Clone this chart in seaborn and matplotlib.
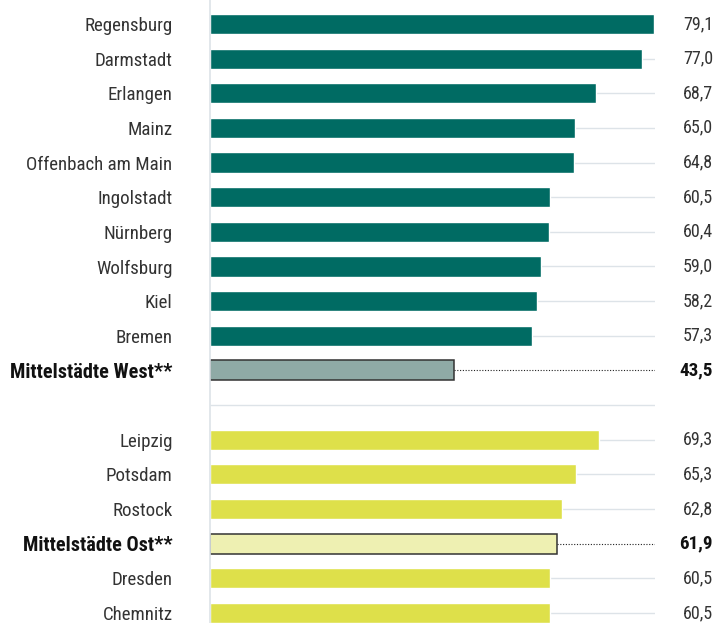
import pandas as pd
import numpy as np
import matplotlib.pyplot as plt
import matplotlib.transforms as mtransforms
from matplotlib import font_manager
import seaborn as sns

cities = ['Regensburg', 'Darmstadt', 'Erlangen', 'Mainz', 'Offenbach am Main',
          'Ingolstadt', 'Nürnberg', 'Wolfsburg', 'Kiel', 'Bremen',
          'Mittelstädte West**', ' ',
          'Leipzig', 'Potsdam', 'Rostock', 'Mittelstädte Ost**', 'Dresden', 'Chemnitz']
values = [79.1, 77.0, 68.7, 65.0, 64.8, 60.5, 60.4, 59.0, 58.2, 57.3,
          43.5, np.nan,
          69.3, 65.3, 62.8, 61.9, 60.5, 60.5]
groups = ['west'] * 10 + ['west_avg', 'blank'] + ['ost'] * 3 + ['ost_avg'] + ['ost'] * 2

group_colors = {'west': '#006b63', 'west_avg': '#8faaa6', 'blank': '#ffffff',
                'ost': '#dee04a', 'ost_avg': '#eef0b2'}
highlight = {'west_avg', 'ost_avg'}

df = pd.DataFrame({'city': cities, 'value': values, 'group': groups})
palette = {c: group_colors[g] for c, g in zip(cities, groups)}

sns.set_style('white')
installed = {f.name for f in font_manager.fontManager.ttflist}
font_choice = [('Roboto Condensed', 13.6, 13), ('Liberation Sans Narrow', 13.6, 13),
               ('Roboto', 11.5, 11.5), ('Liberation Sans', 11.5, 11.5)]
fam, label_size, value_size = next(c for c in font_choice if c[0] in installed)
plt.rcParams['font.family'] = [fam, 'DejaVu Sans']

fig = plt.figure(figsize=(7.27, 6.23), dpi=100)
ax = fig.add_axes([210 / 727, 0, 445 / 727, 1])

xmax = 79.3
n = len(cities)

# light guide lines behind the bars
for i, (v, g) in enumerate(zip(values, groups)):
    if g in highlight:
        ax.hlines(i, v, xmax, color='#222222', lw=0.8, linestyles=(0, (1, 1.5)), zorder=1)
    else:
        ax.hlines(i, 0, xmax, color='#dde3e8', lw=1, zorder=0)

sns.barplot(data=df, y='city', x='value', hue='city', palette=palette, order=cities,
            legend=False, saturation=1, width=0.58, ax=ax, zorder=2)

for p in ax.patches:
    row = int(round(p.get_y() + p.get_height() / 2))
    if 0 <= row < n and groups[row] in highlight:
        p.set_edgecolor('#333333')
        p.set_linewidth(1.1)

ax.set_xlim(0, xmax)
ax.set_ylim(17.29, -0.69)
ax.set_xlabel('')
ax.set_ylabel('')
ax.xaxis.set_visible(False)
for s in ['top', 'right', 'bottom']:
    ax.spines[s].set_visible(False)
ax.spines['left'].set_color('#dde3e8')
ax.spines['left'].set_linewidth(1.2)

ax.tick_params(axis='y', length=0, pad=27, labelsize=label_size, labelcolor='#333333')
for lbl, g in zip(ax.get_yticklabels(), groups):
    if g in highlight:
        lbl.set_fontweight('bold')
        lbl.set_fontsize(label_size * 1.07)
        lbl.set_color('#111111')

trans = mtransforms.blended_transform_factory(fig.transFigure, ax.transData)
for i, (v, g) in enumerate(zip(values, groups)):
    if np.isnan(v):
        continue
    txt = f'{v:.1f}'.replace('.', ',')
    bold = g in highlight
    ax.text(713 / 727, i, txt, transform=trans, ha='right', va='center',
            fontsize=value_size * (1.05 if bold else 1), fontweight='bold' if bold else 'normal',
            color='#111111' if bold else '#333333')

fig.savefig('out.png', dpi=100)
